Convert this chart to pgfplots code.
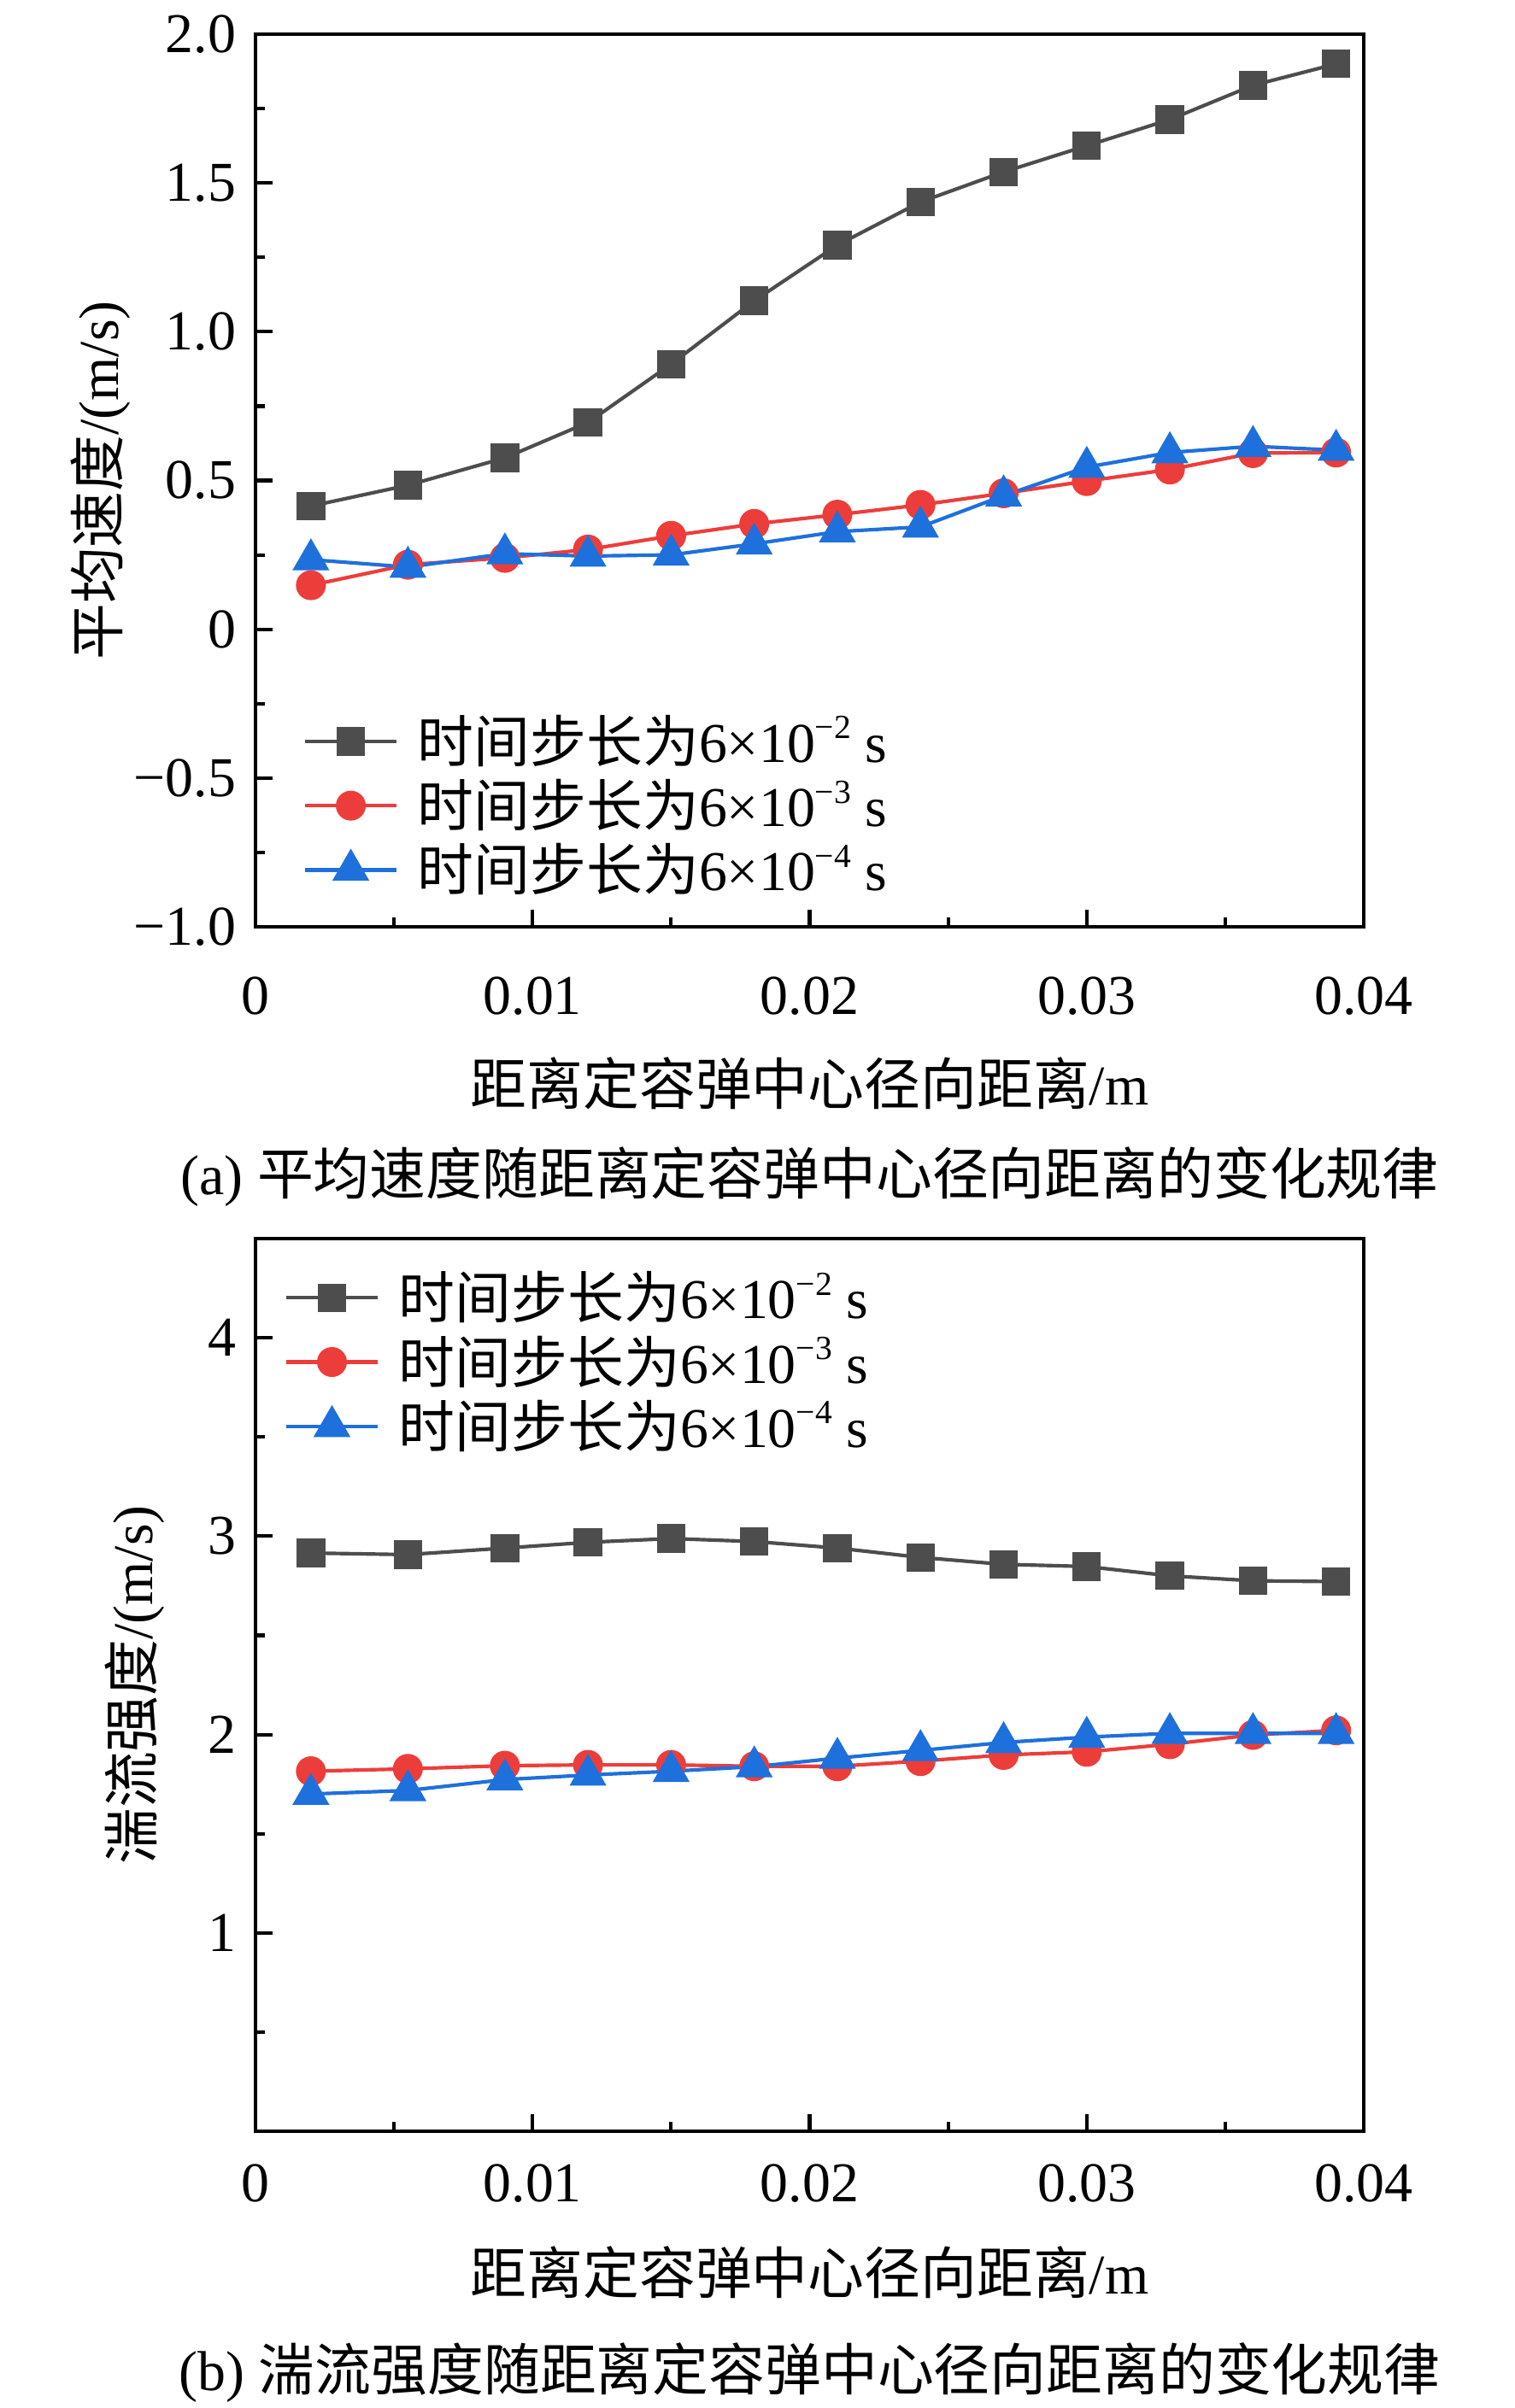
\documentclass[border=0pt]{standalone}
\usepackage{pgfplots}
\pgfplotsset{compat=1.18}
\usepackage{pgfplotstable}
\usepackage{fontspec}
\setmainfont{Liberation Serif}
\newfontfamily\cjk{Noto Sans CJK SC}
\newcommand{\ZH}[1]{{\cjk #1}}
\newcommand{\fs}{\fontsize{15.8}{19}\selectfont}
\newcommand{\supx}[1]{\raisebox{0.42em}{\fontsize{9.5}{10}\selectfont #1}}
\definecolor{cgray}{RGB}{77,77,77}
\definecolor{cred}{RGB}{237,61,59}
\definecolor{cblue}{RGB}{30,112,220}

\pgfplotstableread{
x       b      r      t
0.002   0.414  0.148  0.234
0.0055  0.484  0.217  0.209
0.009   0.576  0.240  0.254
0.012   0.695  0.268  0.246
0.015   0.891  0.314  0.250
0.018   1.104  0.354  0.287
0.021   1.291  0.385  0.328
0.024   1.436  0.418  0.344
0.027   1.537  0.457  0.449
0.030   1.625  0.498  0.545
0.033   1.713  0.537  0.594
0.036   1.828  0.592  0.615
0.039   1.900  0.594  0.602
}\tabtop

\pgfplotstableread{
x       b      r      t
0.002   2.915  1.815  1.700
0.0055  2.907  1.827  1.718
0.009   2.940  1.843  1.773
0.012   2.969  1.847  1.796
0.015   2.988  1.847  1.815
0.018   2.973  1.840  1.838
0.021   2.940  1.840  1.881
0.024   2.893  1.866  1.920
0.027   2.858  1.897  1.960
0.030   2.847  1.913  1.987
0.033   2.800  1.951  2.006
0.036   2.775  1.998  2.006
0.039   2.771  2.021  2.006
}\tabbot

\pgfplotsset{
  common/.style={
    scale only axis,
    width=311.3pt, height=250.8pt,
    axis line style={line width=1pt},
    every tick/.style={line width=1pt, black},
    tick align=inside,
    xtick pos=bottom, ytick pos=left,
    major tick length=4.8pt, minor tick length=2.6pt,
    xmin=0, xmax=0.04,
    xtick={0,0.01,0.02,0.03,0.04},
    xticklabels={0,0.01,0.02,0.03,0.04},
    minor xtick={0.005,0.015,0.025,0.035},
    scaled x ticks=false,
    tick label style={font=\fs},
    label style={font=\fs},
    yticklabel style={anchor=east, xshift=-2pt},
    xlabel={\ZH{距离定容弹中心径向距离}/m},
    legend cell align=left,
    legend image code/.code={\draw[##1, mark repeat=2, mark phase=2] plot coordinates {(0pt,0pt) (12.8pt,0pt) (25.6pt,0pt)};},
    every axis plot/.append style={line width=1pt},
  },
  sb/.style={cgray, mark=square*, mark size=3.5pt, mark options={solid, fill=cgray}},
  sr/.style={cred, mark=*, mark size=3.7pt, mark options={solid, fill=cred}},
  st/.style={cblue, mark=triangle*, mark size=5pt, mark options={solid, fill=cblue}},
}

\begin{document}
\begin{tikzpicture}
\useasboundingbox (0pt,0pt) rectangle (425.28pt,-676.56pt);

\begin{axis}[common, name=top,
  at={(71.76pt,-260.4pt)}, anchor=south west,
  ymin=-1, ymax=2,
  ytick={-1,-0.5,0,0.5,1,1.5,2},
  yticklabels={−1.0,−0.5,0,0.5,1.0,1.5,2.0},
  minor ytick={-0.75,-0.25,0.25,0.75,1.25,1.75},
  xticklabel style={yshift=-10.6pt},
  ylabel={\ZH{平均速度}/(m/s)},
  ylabel style={at={(axis description cs:-0.140,0.5)}, anchor=center},
  xlabel style={at={(axis description cs:0.5,-0.175)}, anchor=center},
  legend style={draw=none, fill=none, at={(axis description cs:0.033,0.254)}, anchor=north west, font=\fs, row sep=-0.7pt, column sep=3.5pt},
]
\addplot[sb] table[x=x,y=b]{\tabtop};
\addlegendentry{\ZH{时间步长为}6×10\supx{−2} s}
\addplot[sr] table[x=x,y=r]{\tabtop};
\addlegendentry{\ZH{时间步长为}6×10\supx{−3} s}
\addplot[st] table[x=x,y=t]{\tabtop};
\addlegendentry{\ZH{时间步长为}6×10\supx{−4} s}
\end{axis}
\node[font=\fs, anchor=center] at ([yshift=-70.3pt]top.south) {(a) \ZH{平均速度随距离定容弹中心径向距离的变化规律}};

\begin{axis}[common, name=bot,
  at={(71.76pt,-598.8pt)}, anchor=south west,
  ymin=0, ymax=4.5,
  ytick={1,2,3,4},
  yticklabels={1,2,3,4},
  minor ytick={0.5,1.5,2.5,3.5},
  xticklabel style={yshift=-5.7pt},
  ylabel={\ZH{湍流强度}/(m/s)},
  ylabel style={at={(axis description cs:-0.109,0.5)}, anchor=center},
  xlabel style={at={(axis description cs:0.5,-0.158)}, anchor=center},
  legend style={draw=none, fill=none, at={(axis description cs:0.016,0.98)}, anchor=north west, font=\fs, row sep=-0.7pt, column sep=3.5pt},
]
\addplot[sb] table[x=x,y=b]{\tabbot};
\addlegendentry{\ZH{时间步长为}6×10\supx{−2} s}
\addplot[sr] table[x=x,y=r]{\tabbot};
\addlegendentry{\ZH{时间步长为}6×10\supx{−3} s}
\addplot[st] table[x=x,y=t]{\tabbot};
\addlegendentry{\ZH{时间步长为}6×10\supx{−4} s}
\end{axis}
\node[font=\fs, anchor=center] at ([yshift=-67.7pt]bot.south) {(b) \ZH{湍流强度随距离定容弹中心径向距离的变化规律}};
\end{tikzpicture}
\end{document}
